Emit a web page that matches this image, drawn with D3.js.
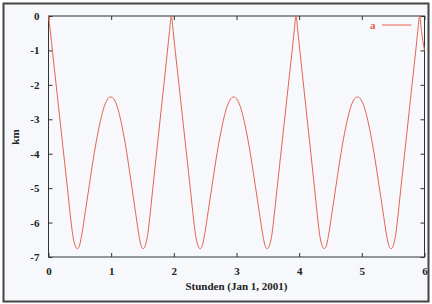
<!DOCTYPE html>
<html>
<head>
<meta charset="utf-8">
<script src="https://cdn.jsdelivr.net/npm/d3@7"></script>
<style>
  body { margin: 0; background: #ffffff; }
  svg { display: block; }
  .axis text { font-family: 'Liberation Serif', 'DejaVu Serif', serif; font-weight: bold; font-size: 11px; fill: #222; }
  .axis path, .axis line { stroke: #333; }
</style>
</head>
<body>
<svg id="chart" width="432" height="304"></svg>
<script>
// hours since Jan 1, 2001
const hours = [
  0, 0.03, 0.065, 0.125, 0.185, 0.245, 0.305, 0.36, 0.39, 0.42, 0.44, 0.46,
  0.48, 0.50, 0.535, 0.59, 0.65, 0.71, 0.755, 0.815, 0.875, 0.935, 0.995,
  1.053, 1.11, 1.168, 1.226, 1.269, 1.327, 1.385, 1.438, 1.471, 1.491, 1.51,
  1.53, 1.549, 1.579, 1.608, 1.662, 1.72, 1.779, 1.838, 1.896, 1.931, 1.96,
  1.99, 2.025, 2.085, 2.145, 2.205, 2.265, 2.32, 2.35, 2.38, 2.40, 2.42,
  2.44, 2.46, 2.495, 2.55, 2.61, 2.67, 2.715, 2.775, 2.835, 2.895, 2.955,
  3.015, 3.075, 3.135, 3.195, 3.24, 3.30, 3.36, 3.415, 3.45, 3.47, 3.49,
  3.51, 3.53, 3.56, 3.59, 3.645, 3.705, 3.765, 3.825, 3.885, 3.92, 3.95,
  3.979, 4.014, 4.072, 4.131, 4.19, 4.248, 4.302, 4.331, 4.361, 4.38, 4.40,
  4.42, 4.44, 4.474, 4.529, 4.588, 4.648, 4.692, 4.752, 4.811, 4.871, 4.93,
  4.99, 5.05, 5.11, 5.17, 5.215, 5.275, 5.335, 5.39, 5.425, 5.445, 5.465,
  5.487, 5.507, 5.536, 5.566, 5.62, 5.68, 5.739, 5.798, 5.858, 5.892, 5.922,
  5.952, 6.0
];
// series "a" in km
const seriesA = [
  0, -0.45, -1.05, -2.05, -3.05, -4.05, -5.05, -5.98, -6.4, -6.64, -6.73, -6.76,
  -6.73, -6.63, -6.31, -5.65, -4.93, -4.21, -3.72, -3.16, -2.71, -2.44, -2.35,
  -2.44, -2.71, -3.16, -3.72, -4.21, -4.93, -5.65, -6.31, -6.63, -6.73, -6.76,
  -6.73, -6.64, -6.4, -5.98, -5.05, -4.05, -3.05, -2.05, -1.05, -0.45, 0,
  -0.45, -1.05, -2.05, -3.05, -4.05, -5.05, -5.98, -6.4, -6.64, -6.73, -6.76,
  -6.73, -6.63, -6.31, -5.65, -4.93, -4.21, -3.72, -3.16, -2.71, -2.44, -2.35,
  -2.44, -2.71, -3.16, -3.72, -4.21, -4.93, -5.65, -6.31, -6.63, -6.73, -6.76,
  -6.73, -6.64, -6.4, -5.98, -5.05, -4.05, -3.05, -2.05, -1.05, -0.45, 0,
  -0.45, -1.05, -2.05, -3.05, -4.05, -5.05, -5.98, -6.4, -6.64, -6.73, -6.76,
  -6.73, -6.63, -6.31, -5.65, -4.93, -4.21, -3.72, -3.16, -2.71, -2.44, -2.35,
  -2.44, -2.71, -3.16, -3.72, -4.21, -4.93, -5.65, -6.31, -6.63, -6.73, -6.76,
  -6.73, -6.64, -6.4, -5.98, -5.05, -4.05, -3.05, -2.05, -1.05, -0.45, 0,
  -0.45, -1.0
];
const xTicks = [0, 1, 2, 3, 4, 5, 6];
const yTicks = [0, -1, -2, -3, -4, -5, -6, -7];
const seriesName = 'a';
const xTitle = 'Stunden (Jan 1, 2001)';
const yTitle = 'km';

const lineColor = '#e2654f';

const svg = d3.select('#chart');

//
// Page frame
//
svg.append('rect')
  .attr('x', 3.5).attr('y', 3.5)
  .attr('width', 425).attr('height', 298)
  .attr('fill', '#f6f8fb')
  .attr('stroke', '#444')
  .attr('stroke-width', 2);

const margin = { top: 16, right: 7.5, bottom: 47, left: 48.5 };
const width = 432 - margin.left - margin.right;
const height = 304 - margin.top - margin.bottom;

const root = svg.append('g')
  .attr('transform', `translate(${margin.left},${margin.top})`);

const x = d3.scaleLinear().domain([0, 6]).range([0, width]);
const y = d3.scaleLinear().domain([-7, 0]).range([height, 0]);

//
// Axes (ticks inside, mirrored)
//
root.append('g')
  .attr('class', 'axis')
  .attr('transform', `translate(0,${height})`)
  .call(d3.axisBottom(x).tickValues(xTicks).tickSize(-4).tickPadding(10).tickFormat(d3.format('d')))
  .call(g => g.select('.domain').remove());

root.append('g')
  .attr('class', 'axis')
  .call(d3.axisTop(x).tickValues(xTicks).tickSize(-4).tickFormat(''))
  .call(g => g.select('.domain').remove());

root.append('g')
  .attr('class', 'axis')
  .call(d3.axisLeft(y).tickValues(yTicks).tickSize(-4).tickPadding(9)
    .tickFormat(d => d === 0 ? '0' : d3.format('d')(d).replace('\u2212', '-')))
  .call(g => g.select('.domain').remove());

root.append('g')
  .attr('class', 'axis')
  .attr('transform', `translate(${width},0)`)
  .call(d3.axisRight(y).tickValues(yTicks).tickSize(-4).tickFormat(''))
  .call(g => g.select('.domain').remove());

root.append('rect')
  .attr('width', width).attr('height', height)
  .attr('fill', 'none')
  .attr('stroke', '#333')
  .attr('stroke-width', 1);

//
// Series line
//
const points = hours.map((h, i) => ({ h, v: seriesA[i] }));

const line = d3.line()
  .curve(d3.curveMonotoneX)
  .x(d => x(d.h))
  .y(d => y(d.v));

root.append('path')
  .datum(points)
  .attr('fill', 'none')
  .attr('stroke', lineColor)
  .attr('stroke-width', 1)
  .attr('d', line);

//
// Legend
//
root.append('text')
  .attr('x', 327)
  .attr('y', 13)
  .attr('text-anchor', 'end')
  .attr('font-family', "'Liberation Serif', serif")
  .attr('font-weight', 'bold')
  .attr('font-size', 11)
  .attr('fill', lineColor)
  .text(seriesName);

root.append('line')
  .attr('x1', x(5.32)).attr('x2', x(5.79))
  .attr('y1', 9).attr('y2', 9)
  .attr('stroke', lineColor)
  .attr('stroke-width', 1);

//
// Titles
//
svg.append('text')
  .attr('x', margin.left + width / 2)
  .attr('y', 290)
  .attr('text-anchor', 'middle')
  .attr('font-family', "'Liberation Serif', serif")
  .attr('font-weight', 'bold')
  .attr('font-size', 11)
  .attr('fill', '#222')
  .text(xTitle);

svg.append('text')
  .attr('transform', 'translate(19,137) rotate(-90)')
  .attr('text-anchor', 'middle')
  .attr('font-family', "'Liberation Serif', serif")
  .attr('font-weight', 'bold')
  .attr('font-size', 11)
  .attr('fill', '#222')
  .text(yTitle);
</script>
</body>
</html>
